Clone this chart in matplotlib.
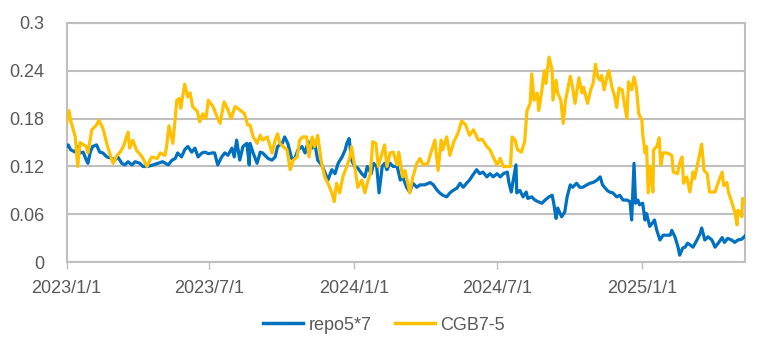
import matplotlib
matplotlib.use("Agg")
import matplotlib.pyplot as plt
import pandas as pd

plt.rcParams['font.family'] = ['Liberation Sans', 'DejaVu Sans']

cgb_dates = [
    "2023-01-01","2023-01-04","2023-01-06","2023-01-12","2023-01-15","2023-01-18","2023-01-26","2023-01-28",
    "2023-02-02","2023-02-08","2023-02-11","2023-02-16","2023-02-22","2023-03-01","2023-03-06","2023-03-10",
    "2023-03-14","2023-03-20","2023-03-22","2023-03-26","2023-03-31","2023-04-07","2023-04-13","2023-04-19",
    "2023-04-26","2023-04-30","2023-05-06","2023-05-08","2023-05-11","2023-05-15","2023-05-16","2023-05-21",
    "2023-05-24","2023-05-26","2023-05-31","2023-06-04","2023-06-07","2023-06-10","2023-06-16","2023-06-19",
    "2023-06-23","2023-06-27","2023-06-30","2023-07-06","2023-07-12","2023-07-15","2023-07-20","2023-07-25",
    "2023-07-29","2023-08-03","2023-08-09","2023-08-15","2023-08-19","2023-08-22","2023-08-26","2023-08-31",
    "2023-09-04","2023-09-07","2023-09-13","2023-09-19","2023-09-23","2023-09-26","2023-09-29","2023-10-03",
    "2023-10-08","2023-10-12","2023-10-16","2023-10-21","2023-10-24","2023-10-28","2023-11-02","2023-11-05",
    "2023-11-09","2023-11-12","2023-11-16","2023-11-21","2023-11-25","2023-11-29","2023-12-04","2023-12-07",
    "2023-12-10","2023-12-14","2023-12-18","2023-12-23","2023-12-27","2023-12-29","2024-01-02","2024-01-06",
    "2024-01-11","2024-01-15","2024-01-18","2024-01-22","2024-01-25","2024-01-29","2024-02-01","2024-02-06",
    "2024-02-09","2024-02-12","2024-02-16","2024-02-20","2024-02-25","2024-02-27","2024-03-03","2024-03-06",
    "2024-03-12","2024-03-16","2024-03-21","2024-03-25","2024-03-29","2024-04-04","2024-04-09","2024-04-13",
    "2024-04-17","2024-04-21","2024-04-23","2024-04-28","2024-05-02","2024-05-07","2024-05-12","2024-05-17",
    "2024-05-22","2024-05-27","2024-06-01","2024-06-07","2024-06-12","2024-06-18","2024-06-22","2024-06-26",
    "2024-07-01","2024-07-05","2024-07-09","2024-07-18","2024-07-20","2024-07-24","2024-07-27","2024-08-01",
    "2024-08-05","2024-08-08","2024-08-12","2024-08-14","2024-08-17","2024-08-21","2024-08-23","2024-08-27",
    "2024-08-30","2024-09-01","2024-09-05","2024-09-09","2024-09-10","2024-09-14","2024-09-16","2024-09-20",
    "2024-09-23","2024-09-26","2024-09-29","2024-10-02","2024-10-05","2024-10-08","2024-10-10","2024-10-13",
    "2024-10-17","2024-10-19","2024-10-22","2024-10-24","2024-10-28","2024-10-31","2024-11-03","2024-11-06",
    "2024-11-09","2024-11-11","2024-11-14","2024-11-18","2024-11-20","2024-11-24","2024-11-27","2024-11-30",
    "2024-12-03","2024-12-07","2024-12-09","2024-12-13","2024-12-15","2024-12-19","2024-12-22","2024-12-25",
    "2024-12-28","2025-01-01","2025-01-02","2025-01-05","2025-01-07","2025-01-09","2025-01-12","2025-01-15",
    "2025-01-16","2025-01-20","2025-01-23","2025-01-25","2025-01-28","2025-02-02","2025-02-08","2025-02-10",
    "2025-02-15","2025-02-18","2025-02-21","2025-02-23","2025-02-27","2025-03-03","2025-03-07","2025-03-09",
    "2025-03-13","2025-03-18","2025-03-21","2025-03-25","2025-03-28","2025-04-04","2025-04-08","2025-04-13",
    "2025-04-15","2025-04-19","2025-04-21","2025-04-25","2025-04-29","2025-05-02","2025-05-03","2025-05-07",
    "2025-05-08","2025-05-09","2025-05-12",
]
cgb_values = [
    0.175,0.190,0.178,0.157,0.120,0.150,0.145,0.137,
    0.166,0.172,0.178,0.168,0.145,0.124,0.134,0.138,
    0.145,0.163,0.143,0.153,0.140,0.132,0.120,0.132,
    0.130,0.137,0.134,0.145,0.171,0.153,0.149,0.203,
    0.205,0.193,0.223,0.207,0.212,0.195,0.189,0.176,
    0.186,0.180,0.203,0.195,0.180,0.174,0.201,0.191,
    0.180,0.195,0.191,0.186,0.172,0.172,0.157,0.149,
    0.159,0.153,0.157,0.137,0.153,0.161,0.149,0.145,
    0.141,0.116,0.128,0.132,0.153,0.157,0.157,0.132,
    0.157,0.145,0.159,0.124,0.107,0.099,0.087,0.076,
    0.099,0.087,0.107,0.120,0.132,0.145,0.120,0.094,
    0.103,0.087,0.099,0.111,0.151,0.149,0.120,0.137,
    0.147,0.120,0.137,0.138,0.122,0.138,0.107,0.115,
    0.087,0.107,0.124,0.130,0.122,0.124,0.141,0.153,
    0.115,0.153,0.141,0.157,0.134,0.151,0.161,0.177,
    0.172,0.159,0.166,0.153,0.154,0.145,0.141,0.132,
    0.122,0.130,0.120,0.120,0.157,0.153,0.141,0.138,
    0.151,0.190,0.199,0.236,0.203,0.212,0.190,0.216,
    0.240,0.224,0.257,0.240,0.203,0.228,0.212,0.203,
    0.174,0.203,0.218,0.233,0.219,0.199,0.212,0.231,
    0.212,0.219,0.207,0.199,0.216,0.224,0.248,0.232,
    0.228,0.234,0.216,0.234,0.240,0.219,0.209,0.194,
    0.218,0.216,0.203,0.180,0.226,0.216,0.232,0.219,
    0.186,0.178,0.161,0.137,0.145,0.087,0.120,0.088,
    0.141,0.145,0.156,0.122,0.137,0.137,0.134,0.113,
    0.111,0.124,0.132,0.099,0.107,0.088,0.113,0.105,
    0.124,0.148,0.115,0.111,0.088,0.088,0.100,0.113,
    0.096,0.100,0.088,0.076,0.063,0.047,0.065,0.061,
    0.057,0.080,0.074,
]

repo_dates = [
    "2023-01-01","2023-01-03","2023-01-06","2023-01-12","2023-01-15","2023-01-18","2023-01-22","2023-01-26",
    "2023-01-28","2023-01-31","2023-02-03","2023-02-08","2023-02-12","2023-02-16","2023-02-21","2023-02-28",
    "2023-03-03","2023-03-07","2023-03-12","2023-03-16","2023-03-20","2023-03-25","2023-03-29","2023-04-04",
    "2023-04-08","2023-04-14","2023-04-21","2023-04-27","2023-05-03","2023-05-10","2023-05-15","2023-05-19",
    "2023-05-22","2023-05-27","2023-05-31","2023-06-04","2023-06-09","2023-06-13","2023-06-17","2023-06-22",
    "2023-06-26","2023-06-30","2023-07-05","2023-07-08","2023-07-12","2023-07-17","2023-07-21","2023-07-25",
    "2023-07-30","2023-08-02","2023-08-05","2023-08-09","2023-08-13","2023-08-18","2023-08-21","2023-08-22",
    "2023-08-26","2023-08-31","2023-09-04","2023-09-07","2023-09-14","2023-09-19","2023-09-23","2023-09-26",
    "2023-10-02","2023-10-05","2023-10-09","2023-10-14","2023-10-18","2023-10-22","2023-10-27","2023-10-31",
    "2023-11-04","2023-11-09","2023-11-12","2023-11-16","2023-11-21","2023-11-25","2023-11-29","2023-12-04",
    "2023-12-08","2023-12-12","2023-12-17","2023-12-21","2023-12-23","2023-12-26","2023-12-29","2024-01-02",
    "2024-01-06","2024-01-11","2024-01-15","2024-01-18","2024-01-23","2024-01-26","2024-01-30","2024-02-02",
    "2024-02-06","2024-02-09","2024-02-12","2024-02-16","2024-02-20","2024-02-25","2024-02-29","2024-03-03",
    "2024-03-08","2024-03-12","2024-03-16","2024-03-21","2024-03-25","2024-03-31","2024-04-07","2024-04-11",
    "2024-04-16","2024-04-19","2024-04-23","2024-04-28","2024-05-02","2024-05-06","2024-05-11","2024-05-15",
    "2024-05-19","2024-05-24","2024-05-27","2024-05-31","2024-06-05","2024-06-09","2024-06-13","2024-06-18",
    "2024-06-22","2024-06-26","2024-07-01","2024-07-05","2024-07-09","2024-07-14","2024-07-16","2024-07-19",
    "2024-07-21","2024-07-25","2024-07-26","2024-07-30","2024-08-03","2024-08-07","2024-08-09","2024-08-14",
    "2024-08-18","2024-08-22","2024-08-27","2024-08-31","2024-09-05","2024-09-09","2024-09-11","2024-09-14",
    "2024-09-16","2024-09-21","2024-09-25","2024-09-28","2024-10-02","2024-10-05","2024-10-10","2024-10-14",
    "2024-10-18","2024-10-23","2024-10-27","2024-10-31","2024-11-05","2024-11-09","2024-11-12","2024-11-18",
    "2024-11-21","2024-11-25","2024-11-30","2024-12-04","2024-12-08","2024-12-13","2024-12-17","2024-12-19",
    "2024-12-22","2024-12-24","2024-12-27","2024-12-29","2025-01-02","2025-01-05","2025-01-07","2025-01-11",
    "2025-01-15","2025-01-17","2025-01-20","2025-01-24","2025-01-28","2025-02-02","2025-02-06","2025-02-08",
    "2025-02-12","2025-02-16","2025-02-18","2025-02-22","2025-02-25","2025-02-28","2025-03-03","2025-03-07",
    "2025-03-12","2025-03-16","2025-03-18","2025-03-22","2025-03-26","2025-03-31","2025-04-04","2025-04-08",
    "2025-04-13","2025-04-16","2025-04-20","2025-04-25","2025-04-29","2025-05-03","2025-05-08","2025-05-12",
]
repo_values = [
    0.145,0.147,0.141,0.138,0.145,0.137,0.138,0.128,
    0.124,0.138,0.145,0.147,0.138,0.137,0.132,0.130,
    0.128,0.132,0.124,0.122,0.126,0.122,0.126,0.124,
    0.120,0.120,0.122,0.124,0.126,0.122,0.128,0.130,
    0.137,0.132,0.141,0.145,0.138,0.143,0.132,0.137,
    0.138,0.136,0.137,0.137,0.122,0.132,0.137,0.134,
    0.143,0.132,0.153,0.128,0.145,0.149,0.122,0.149,
    0.137,0.124,0.138,0.137,0.130,0.128,0.132,0.145,
    0.149,0.157,0.149,0.130,0.130,0.141,0.145,0.137,
    0.151,0.143,0.151,0.128,0.122,0.113,0.103,0.116,
    0.111,0.124,0.132,0.141,0.149,0.155,0.128,0.120,
    0.118,0.111,0.107,0.120,0.111,0.124,0.120,0.087,
    0.120,0.124,0.116,0.124,0.120,0.120,0.103,0.107,
    0.094,0.088,0.099,0.094,0.097,0.097,0.100,0.097,
    0.090,0.087,0.084,0.082,0.087,0.090,0.093,0.099,
    0.094,0.100,0.103,0.109,0.116,0.111,0.113,0.107,
    0.111,0.107,0.111,0.107,0.111,0.113,0.100,0.088,
    0.100,0.122,0.087,0.090,0.082,0.088,0.080,0.082,
    0.078,0.076,0.074,0.078,0.082,0.084,0.074,0.055,
    0.068,0.057,0.063,0.082,0.097,0.094,0.099,0.094,
    0.094,0.097,0.099,0.100,0.103,0.107,0.097,0.090,
    0.088,0.087,0.082,0.084,0.078,0.078,0.076,0.053,
    0.124,0.074,0.078,0.072,0.074,0.053,0.061,0.045,
    0.050,0.053,0.040,0.028,0.034,0.034,0.034,0.040,
    0.032,0.019,0.009,0.018,0.019,0.024,0.022,0.019,
    0.028,0.036,0.043,0.028,0.032,0.028,0.019,0.024,
    0.031,0.025,0.030,0.028,0.025,0.028,0.029,0.033,
]

series_names = ["repo5*7", "CGB7-5"]
y_ticks = [0, 0.06, 0.12, 0.18, 0.24, 0.3]
y_labels = ["0", "0.06", "0.12", "0.18", "0.24", "0.3"]
x_ticks = ["2023-01-01", "2023-07-01", "2024-01-01", "2024-07-01", "2025-01-01"]
x_labels = ["2023/1/1", "2023/7/1", "2024/1/1", "2024/7/1", "2025/1/1"]
x_range = ["2023-01-01", "2025-05-12"]

GRID = "#bfbfbf"
TEXT = "#595959"

fig = plt.figure(figsize=(7.68, 3.55), dpi=100)
ax = fig.add_axes([0.0868, 0.261, 0.8832, 0.675])

ax.plot(pd.to_datetime(repo_dates), repo_values, color="#0070C0", lw=2.3,
        label=series_names[0], solid_joinstyle="round", zorder=3)
ax.plot(pd.to_datetime(cgb_dates), cgb_values, color="#FFC000", lw=2.3,
        label=series_names[1], solid_joinstyle="round", zorder=3)

ax.set_xlim(pd.Timestamp(x_range[0]), pd.Timestamp(x_range[1]))
ax.set_ylim(0, 0.3)
ax.set_yticks(y_ticks)
ax.set_yticklabels(y_labels)
ax.set_xticks(pd.to_datetime(x_ticks))
ax.set_xticklabels(x_labels)

ax.yaxis.grid(True, color=GRID, lw=1.5, zorder=0)
ax.set_axisbelow(True)
for s in ax.spines.values():
    s.set_color(GRID)
    s.set_linewidth(1.5)

ax.tick_params(axis="y", length=0, pad=16, labelsize=13, labelcolor=TEXT)
ax.tick_params(axis="x", length=5, width=1, color=GRID, pad=8, labelsize=13, labelcolor=TEXT)

leg = fig.legend(loc="center", bbox_to_anchor=(0.5, 1 - 325 / 355), ncol=2, frameon=False,
                 fontsize=13, handlelength=2.2, handletextpad=0.3, columnspacing=1.3,
                 labelcolor=TEXT)
for h in leg.get_lines():
    h.set_linewidth(2.5)

fig.savefig("out.png", dpi=100)
